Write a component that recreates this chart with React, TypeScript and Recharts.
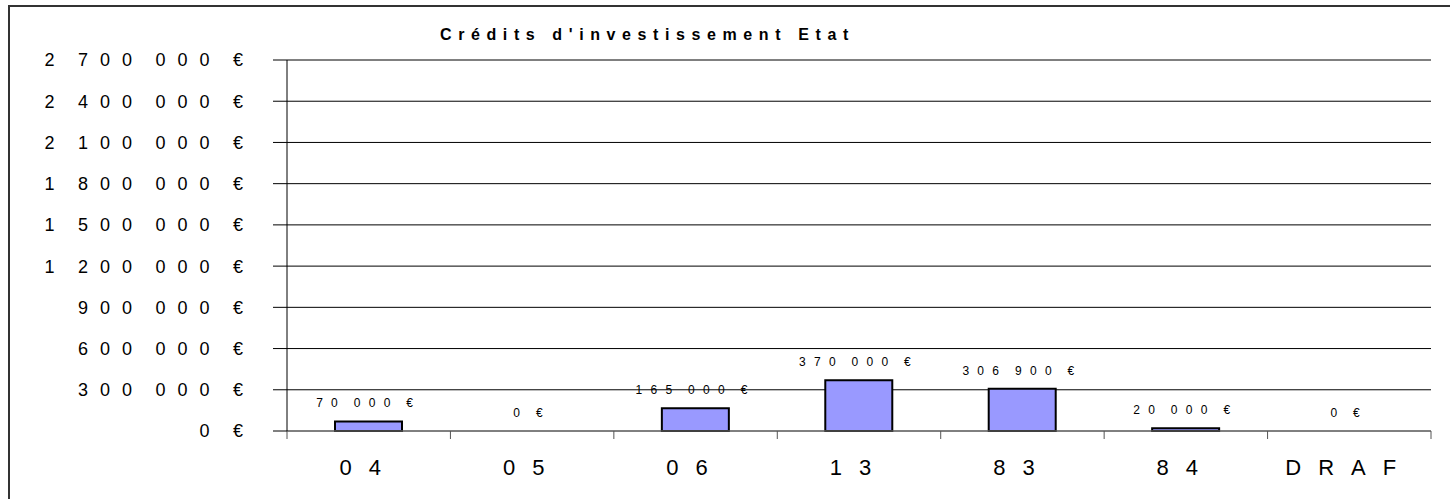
import React from 'react';
import { ComposedChart, Bar, Line, XAxis, YAxis, CartesianGrid, LabelList } from 'recharts';

const categories = ['04', '05', '06', '13', '83', '84', 'DRAF'];
const values = [70000, 0, 165000, 370000, 306900, 20000, 0];
const yTicks = [0, 300000, 600000, 900000, 1200000, 1500000, 1800000, 2100000, 2400000, 2700000];
const boundaryTicks = [0, 1, 2, 3, 4, 5, 6, 7];
const title = "Crédits d'investissement Etat";

const data = categories.map((c, i) => ({ cat: c, value: values[i], pos: i + 0.5 }));

const FONT = "'Liberation Sans', Arial, sans-serif";

const fmt = (v: number) => {
  const s = Math.round(v).toString();
  const parts: string[] = [];
  for (let i = s.length; i > 0; i -= 3) parts.unshift(s.slice(Math.max(0, i - 3), i));
  return parts.join(' ') + ' €';
};

const YTick = (props: any) => {
  const { x, y, payload } = props;
  return (
    <text x={x} y={y} dy="0.36em" textAnchor="end" fontFamily={FONT} fontSize={18}
      fill="#000" style={{ letterSpacing: '12px', wordSpacing: '-5.5px' }}>
      {fmt(payload.value)}
    </text>
  );
};

const XTick = (props: any) => {
  const { x, y, payload } = props;
  return (
    <text x={x} y={y} dy={43} textAnchor="middle" fontFamily={FONT} fontSize={22}
      fill="#000" style={{ letterSpacing: '17px' }}>
      {payload.value}
    </text>
  );
};

const ValueLabel = (props: any) => {
  const x = props.x ?? props.viewBox?.x;
  const y = props.y ?? props.viewBox?.y;
  const v = props.value;
  if (x == null || y == null) return null;
  return (
    <text x={x} y={y - 14} textAnchor="middle" fontFamily={FONT} fontSize={12}
      fill="#000" style={{ letterSpacing: '8.3px', wordSpacing: '-4px' }}>
      {fmt(Number(v))}
    </text>
  );
};

export default function App() {
  return (
    <div style={{ position: 'absolute', left: 0, top: 0, width: 1450, height: 499, overflow: 'hidden', background: '#fff' }}>
      <div style={{ position: 'absolute', left: 8, top: 5, width: 1500, height: 600, borderTop: '2px solid #333', borderLeft: '2px solid #333' }} />
      <svg width={1450} height={60} style={{ position: 'absolute', left: 0, top: 0 }}>
        <text x={440} y={40} fontFamily={FONT}
          fontWeight="bold" fontSize={16} fill="#000" style={{ letterSpacing: '6.6px' }}>
          {title}
        </text>
      </svg>
      <div style={{ position: 'absolute', left: 0, top: 0 }}>
        <ComposedChart width={1450} height={499} data={data}
          margin={{ top: 60, right: 19, bottom: 28, left: 0 }}>
          <CartesianGrid horizontal={true} vertical={false} stroke="#000" strokeWidth={1} />
          <XAxis xAxisId="b" type="number" dataKey="pos" domain={[0, 7]} ticks={boundaryTicks}
            allowDataOverflow height={1} tickFormatter={() => ''} tickSize={8}
            axisLine={{ stroke: '#808080' }} tickLine={{ stroke: '#555' }} />
          <XAxis xAxisId="c" type="category" dataKey="cat" height={39} tickLine={false} axisLine={false}
            tickSize={0} tickMargin={0} tick={<XTick />} interval={0} />
          <YAxis type="number" domain={[0, 2700000]} ticks={yTicks} width={287} tickSize={14}
            tickMargin={18} axisLine={{ stroke: '#000' }} tickLine={{ stroke: '#000' }} tick={<YTick />}
            interval={0} />
          <Bar xAxisId="c" dataKey="value" fill="#9999ff" stroke="#000" strokeWidth={2} barSize={67}
            isAnimationActive={false} />
          <Line xAxisId="b" dataKey="value" stroke="none" dot={false} activeDot={false}
            isAnimationActive={false} legendType="none">
            <LabelList dataKey="value" content={<ValueLabel />} />
          </Line>
        </ComposedChart>
      </div>
    </div>
  );
}
